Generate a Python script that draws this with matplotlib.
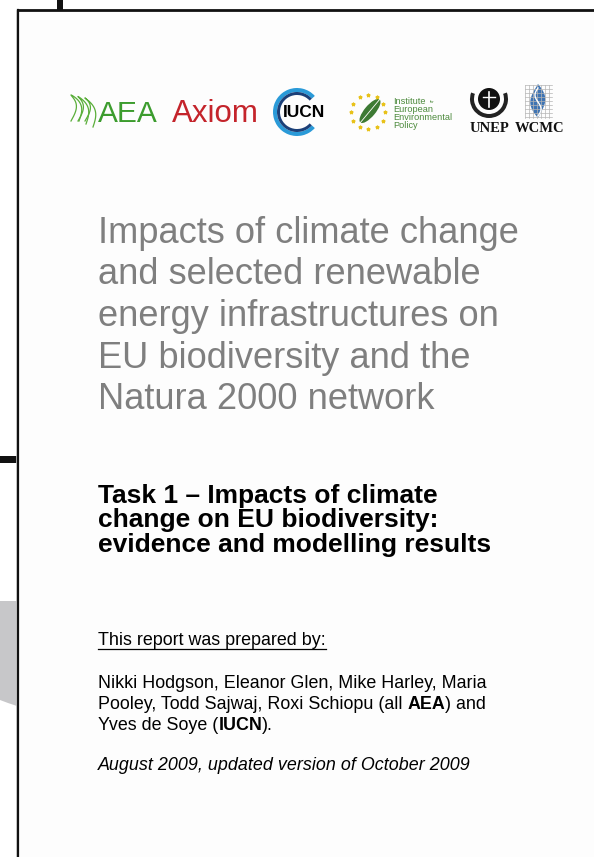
import numpy as np
import matplotlib
matplotlib.use("Agg")
import matplotlib.pyplot as plt
from matplotlib.patches import Wedge, Circle, Ellipse, Polygon, Rectangle

W, H = 594, 857

# --- text content of the cover page ---
title_lines = ["Impacts of climate change",
               "and selected renewable",
               "energy infrastructures on",
               "EU biodiversity and the",
               "Natura 2000 network"]
task_lines = ["Task 1 \u2013 Impacts of climate",
              "change on EU biodiversity:",
              "evidence and modelling results"]
prepared_by = "This report was prepared by:"
# each author line is a list of (text, bold) pieces
author_lines = [[("Nikki Hodgson, Eleanor Glen, Mike Harley, Maria", False)],
                [("Pooley, Todd Sajwaj, Roxi Schiopu (all ", False), ("AEA", True), (") and", False)],
                [("Yves de Soye (", False), ("IUCN", True), (").", False)]]
date_line = "August 2009, updated version of October 2009"
ieep_lines = ["Institute", "European", "Environmental", "Policy"]

FONT = "Liberation Sans"
SERIF = "Liberation Serif"

fig = plt.figure(figsize=(W / 100, H / 100), dpi=100)
ax = fig.add_axes([0, 0, 1, 1])
ax.set_xlim(0, W)
ax.set_ylim(H, 0)
ax.axis("off")
fig.patch.set_facecolor("white")

# page background + frame
ax.add_patch(Rectangle((18, 10), W - 18, H - 10, facecolor="#fdfdfd", edgecolor="none"))
ax.plot([18, 18], [10, H], color="#111111", lw=1.6)
ax.plot([18, W], [10, 10], color="#111111", lw=2.0)
ax.plot([16, 16], [10, H], color="#bbbbbb", lw=0.6)
ax.add_patch(Rectangle((57, 0), 6, 10, facecolor="#111111", edgecolor="none"))
ax.add_patch(Rectangle((0, 456), 17, 7, facecolor="#111111", edgecolor="none"))
ax.add_patch(Polygon([(0, 601), (17, 601), (17, 706), (8, 703), (0, 700)],
                     facecolor="#c7c7c9", edgecolor="none"))

rend = fig.canvas.get_renderer()


def seg_text(x, y, pieces, size, **kw):
    # draws pieces one after another on the same baseline
    for txt, bold in pieces:
        t = ax.text(x, y, txt, fontsize=size, family=FONT, va="baseline", ha="left",
                    fontweight="bold" if bold else "normal", **kw)
        x += t.get_window_extent(rend).width
    return x


# ---- logos ----
green = "#3c9c2e"
t = np.linspace(0, 1, 200)
for k in range(3):
    xs = 71 + 7 * k + 8 * t + 4 * np.sin(2 * np.pi * t * 1.5)
    ys = 121 - 26 * np.sin(np.pi * t) + 3 * k * t
    ax.plot(xs, ys, color="#5aae3a", lw=0.9)
ax.text(98, 122, "AEA", fontsize=21.5, family=FONT, color=green, va="baseline")
ax.text(172, 122, "Axiom", fontsize=22.5, family=FONT, color="#c4242b", va="baseline")

# IUCN ring
ax.add_patch(Wedge((297, 112), 24, 42, 318, width=4, facecolor="#2a9ad8", edgecolor="none"))
ax.add_patch(Wedge((297, 112), 20, 42, 318, width=3, facecolor="#1b3f78", edgecolor="none"))
ax.text(304, 112, "IUCN", fontsize=12.5, family=FONT, fontweight="bold",
        ha="center", va="center", color="black")

# IEEP stars and leaf
ang = np.linspace(0, 2 * np.pi, 13)[:-1]
ax.scatter(368 + 17 * np.cos(ang), 112 + 17 * np.sin(ang), s=5, marker="*",
           color="#e8c21a", zorder=3)
ax.add_patch(Ellipse((370, 111), 30, 11, angle=-50, facecolor="#3d7a34", edgecolor="none"))
ax.plot([360, 380], [123, 99], color="white", lw=0.6)
ys_ieep = [104, 112, 120, 128]
for yy, s in zip(ys_ieep, ieep_lines):
    ax.text(393, yy, s, fontsize=6.6, family=FONT, color="#4c8a3c", va="baseline")
ax.text(430, 103, "for", fontsize=3, family=FONT, color="#4c8a3c", va="baseline")

# UNEP emblem
ax.add_patch(Circle((489, 99), 11, facecolor="#111111", edgecolor="none"))
ax.plot([489, 489], [92, 107], color="white", lw=1.2)
ax.plot([483, 495], [97, 97], color="white", lw=1.0)
ax.add_patch(Wedge((489, 99), 19, -20, 200, width=4, facecolor="#222222", edgecolor="none"))
ax.text(489, 132, "UNEP", fontsize=10.5, family=SERIF, fontweight="bold",
        ha="center", va="baseline", color="#111111")

# WCMC grid + flame
for gx in np.arange(525, 553, 4):
    ax.plot([gx, gx], [85, 118], color="#b5b5b5", lw=0.5)
for gy in np.arange(85, 119, 4):
    ax.plot([525, 552], [gy, gy], color="#b5b5b5", lw=0.5)
fl = np.linspace(0, 1, 40)
left = [(538 - 9 * np.sin(np.pi * v) * (1 - 0.3 * v), 118 - 34 * v) for v in fl]
right = [(538 + 9 * np.sin(np.pi * v) * (0.6 + 0.4 * v), 118 - 34 * v) for v in fl[::-1]]
ax.add_patch(Polygon(left + right, facecolor="#3f74b3", edgecolor="none"))
ax.plot(538 + 3 * np.sin(2 * np.pi * fl), 116 - 28 * fl, color="white", lw=1.0)
ax.text(540, 132, "WCMC", fontsize=10.5, family=SERIF, fontweight="bold",
        ha="center", va="baseline", color="#111111")

# ---- title ----
for i, s in enumerate(title_lines):
    ax.text(98, 243 + 41.5 * i, s, fontsize=26.1, family=FONT, color="#7f7f7f", va="baseline")

# ---- task subtitle ----
for i, s in enumerate(task_lines):
    ax.text(98, 503 + 24.5 * i, s, fontsize=19, family=FONT, fontweight="bold",
            color="black", va="baseline")

# ---- prepared by ----
BODY = 12.85
tp = ax.text(98, 645, prepared_by, fontsize=BODY, family=FONT, color="black", va="baseline")
wp = tp.get_window_extent(rend).width
ax.plot([98, 98 + wp], [648.5, 648.5], color="black", lw=0.9)

for i, pieces in enumerate(author_lines):
    seg_text(98, 688 + 21 * i, pieces, BODY, color="black")

ax.text(98, 770, date_line, fontsize=BODY, family=FONT, style="italic",
        color="black", va="baseline")

fig.savefig("out.png", dpi=100)
